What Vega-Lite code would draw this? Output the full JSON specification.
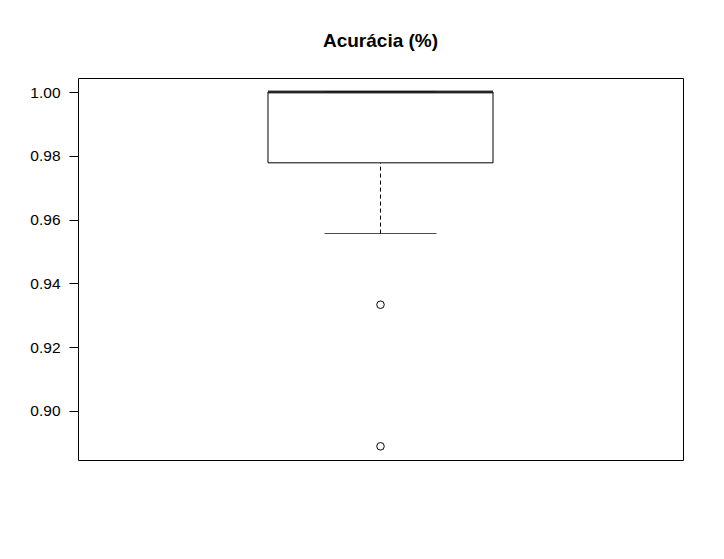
{
  "$schema": "https://vega.github.io/schema/vega-lite/v6.json",
  "autosize": {"type": "none"},
  "width": 605,
  "height": 382,
  "padding": {"left": 78, "top": 78, "right": 41, "bottom": 99},
  "background": "white",
  "title": {
    "text": "Acurácia (%)",
    "font": "Liberation Sans",
    "fontSize": 19,
    "fontWeight": "bold",
    "color": "black",
    "anchor": "middle",
    "offset": 27
  },
  "datasets": {
    "stats": [
      {"grupo": "Acurácia", "minimo": 0.9556, "q1": 0.9778, "mediana": 1.0, "q3": 1.0, "maximo": 1.0}
    ],
    "outliers": [
      {"grupo": "Acurácia", "valor": 0.9333},
      {"grupo": "Acurácia", "valor": 0.8889}
    ]
  },
  "encoding": {
    "x": {
      "field": "grupo",
      "type": "nominal",
      "axis": null,
      "scale": {"paddingInner": 0, "paddingOuter": 0.8444}
    }
  },
  "layer": [
    {
      "data": {"name": "stats"},
      "mark": {"type": "rule", "color": "black", "strokeWidth": 1, "strokeDash": [4, 3]},
      "encoding": {
        "y": {
          "field": "minimo",
          "type": "quantitative",
          "scale": {"domain": [0.8846, 1.0044], "nice": false, "zero": false},
          "axis": {
            "values": [0.9, 0.92, 0.94, 0.96, 0.98, 1.0],
            "format": ".2f",
            "title": null,
            "grid": false,
            "domain": false,
            "tickColor": "black",
            "tickSize": 9,
            "labelFont": "Liberation Sans",
            "labelFontSize": 15.5,
            "labelColor": "black",
            "labelPadding": 9
          }
        },
        "y2": {"field": "q1"}
      }
    },
    {
      "data": {"name": "stats"},
      "mark": {"type": "rule", "color": "black", "strokeWidth": 1, "strokeDash": [4, 3]},
      "encoding": {
        "y": {"field": "q3", "type": "quantitative"},
        "y2": {"field": "maximo"}
      }
    },
    {
      "data": {"name": "stats"},
      "mark": {"type": "tick", "color": "black", "size": 112, "thickness": 1},
      "encoding": {"y": {"field": "minimo", "type": "quantitative"}}
    },
    {
      "data": {"name": "stats"},
      "mark": {"type": "tick", "color": "black", "size": 112, "thickness": 1},
      "encoding": {"y": {"field": "maximo", "type": "quantitative"}}
    },
    {
      "data": {"name": "stats"},
      "mark": {"type": "bar", "fill": "white", "stroke": "black", "strokeWidth": 1},
      "encoding": {
        "y": {"field": "q1", "type": "quantitative"},
        "y2": {"field": "q3"}
      }
    },
    {
      "data": {"name": "stats"},
      "mark": {"type": "tick", "color": "black", "size": 225, "thickness": 3},
      "encoding": {"y": {"field": "mediana", "type": "quantitative"}}
    },
    {
      "data": {"name": "outliers"},
      "mark": {"type": "point", "shape": "circle", "filled": false, "color": "black", "size": 57, "strokeWidth": 1, "opacity": 1},
      "encoding": {"y": {"field": "valor", "type": "quantitative"}}
    }
  ],
  "config": {
    "font": "Liberation Sans",
    "view": {"stroke": "black", "strokeWidth": 1}
  }
}
